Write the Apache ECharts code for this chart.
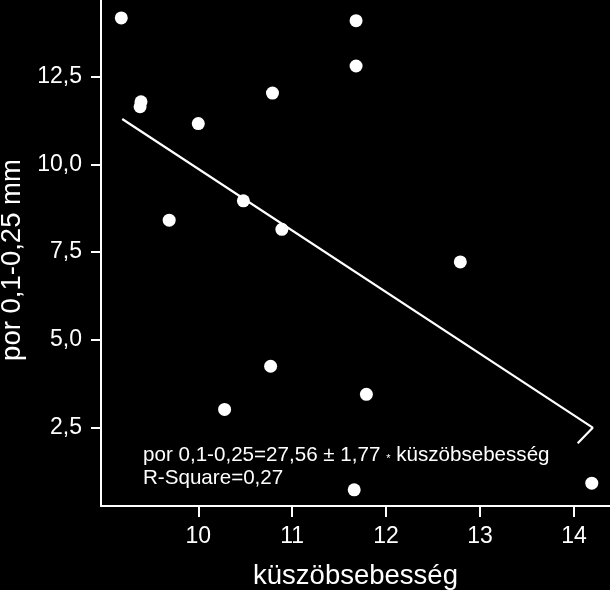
<!DOCTYPE html>
<html>
<head>
<meta charset="utf-8">
<script src="https://cdn.jsdelivr.net/npm/echarts@6/dist/echarts.min.js"></script>
<style>
  html, body { margin: 0; padding: 0; background: #000; }
  #main { width: 610px; height: 590px; }
</style>
</head>
<body>
<div id="main"></div>
<script>
// measured points: küszöbsebesség (x) vs por 0,1-0,25 mm (y)
const speed = [9.18, 9.39, 9.38, 10.0, 10.79, 9.69, 10.48, 10.89, 11.68, 11.68, 12.79, 10.77, 10.28, 11.79, 11.66, 14.19];
const dust = [14.17, 11.78, 11.64, 11.16, 12.03, 8.41, 8.96, 8.15, 14.09, 12.80, 7.22, 4.25, 3.02, 3.45, 0.73, 0.92];
// regression line as drawn (with the little hook at its end)
const fitX = [9.19, 14.20, 14.04];
const fitY = [11.29, 2.5, 2.06];
const xTicks = [10, 11, 12, 13, 14];
const yTicks = [2.5, 5, 7.5, 10, 12.5];

const font = "'Liberation Sans', Arial, sans-serif";
const white = "#fff";

const points = speed.map((v, i) => [v, dust[i]]);
const fitLine = fitX.map((v, i) => [v, fitY[i]]);

const options = {
  backgroundColor: "#000",
  animation: false,
  grid: { left: 101, right: 0, top: 0, bottom: 84, outerBoundsMode: "none", containLabel: false },
  xAxis: {
    type: "value",
    min: 8.964,
    max: 14.384,
    name: "küszöbsebesség",
    nameLocation: "middle",
    nameGap: 56,
    nameTextStyle: { color: white, fontSize: 27.5, fontFamily: font },
    axisLine: { show: true, lineStyle: { color: white, width: 2 } },
    axisTick: { show: true, customValues: xTicks, length: 11, lineStyle: { color: white, width: 2 } },
    axisLabel: {
      customValues: xTicks,
      color: white, fontSize: 23, fontFamily: font, margin: 19
    },
    splitLine: { show: false }
  },
  yAxis: {
    type: "value",
    min: 0.27,
    max: 14.68,
    name: "por 0,1-0,25 mm",
    nameLocation: "middle",
    nameGap: 73,
    nameTextStyle: { color: white, fontSize: 27.5, fontFamily: font, padding: [0, 14, 0, 0] },
    axisLine: { show: true, lineStyle: { color: white, width: 2 } },
    axisTick: { show: true, customValues: yTicks, length: 10, lineStyle: { color: white, width: 2 } },
    axisLabel: {
      customValues: yTicks,
      color: white, fontSize: 23, fontFamily: font, margin: 19,
      formatter: (v) => v.toFixed(1).replace(".", ",")
    },
    splitLine: { show: false }
  },
  graphic: [
    {
      type: "text",
      left: 143,
      top: 444,
      style: {
        text: "por 0,1-0,25=27,56 ± 1,77 {s|*} küszöbsebesség\nR-Square=0,27",
        fill: white,
        fontSize: 20.6,
        fontFamily: font,
        lineHeight: 23,
        rich: { s: { fontSize: 11, fill: white, fontFamily: font, lineHeight: 23, padding: [6, 0, 0, 0] } }
      }
    }
  ],
  series: [
    {
      type: "line",
      data: fitLine,
      symbol: "none",
      lineStyle: { color: white, width: 2.2 },
      z: 1
    },
    {
      type: "scatter",
      data: points,
      symbolSize: 13,
      itemStyle: { color: white, opacity: 1 },
      z: 2
    }
  ]
};

var myChart = echarts.init(document.getElementById("main"));
myChart.setOption(options);
</script>
</body>
</html>
